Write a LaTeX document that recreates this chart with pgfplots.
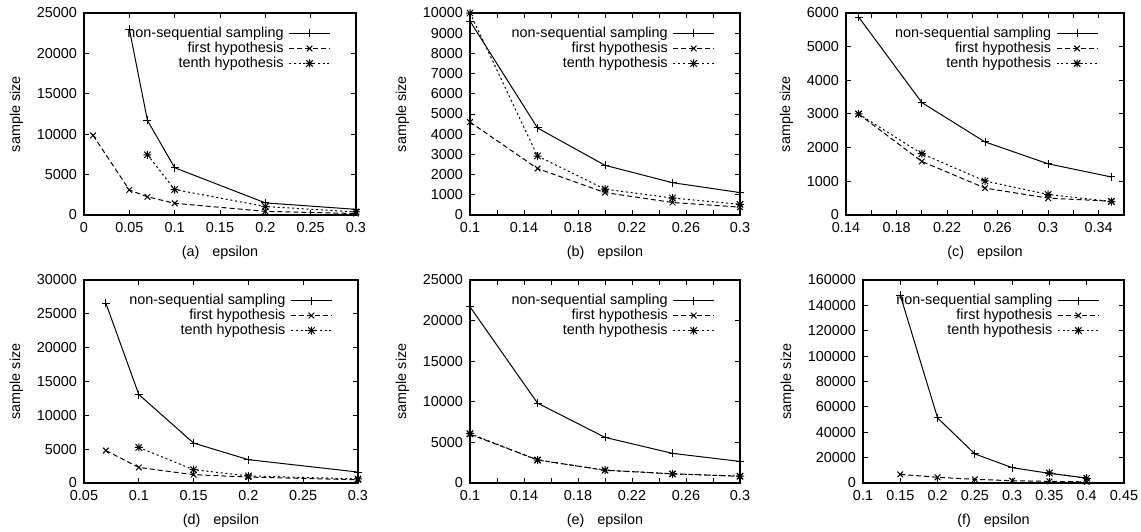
\documentclass[border=0pt]{standalone}
\usepackage{fontspec}
\setmainfont{Liberation Sans}
\usepackage{pgfplots}
\pgfplotsset{compat=1.18}

\newcommand{\fs}{\fontsize{7.2}{8}\selectfont}

% gnuplot style '*' mark: a plus and a cross on top of each other
\pgfdeclareplotmark{gpstar}{%
  \pgfpathmoveto{\pgfqpoint{-\pgfplotmarksize}{0pt}}%
  \pgfpathlineto{\pgfqpoint{\pgfplotmarksize}{0pt}}%
  \pgfpathmoveto{\pgfqpoint{0pt}{-\pgfplotmarksize}}%
  \pgfpathlineto{\pgfqpoint{0pt}{\pgfplotmarksize}}%
  \pgfpathmoveto{\pgfqpoint{-0.8\pgfplotmarksize}{-0.8\pgfplotmarksize}}%
  \pgfpathlineto{\pgfqpoint{0.8\pgfplotmarksize}{0.8\pgfplotmarksize}}%
  \pgfpathmoveto{\pgfqpoint{-0.8\pgfplotmarksize}{0.8\pgfplotmarksize}}%
  \pgfpathlineto{\pgfqpoint{0.8\pgfplotmarksize}{-0.8\pgfplotmarksize}}%
  \pgfusepathqstroke}

\pgfplotsset{
  gp/.style={
    scale only axis,
    axis line style={line width=0.6pt},
    tick align=inside, tick pos=both,
    major tick length=2.5pt, minor tick length=2.5pt,
    every tick/.style={black, line width=0.5pt},
    scaled ticks=false,
    /pgf/number format/fixed,
    /pgf/number format/precision=0,
    /pgf/number format/1000 sep={},
    /pgf/number format/assume math mode=true,
    tick label style={font=\fs},
    label style={font=\fs},
    ylabel={sample size},
    legend style={draw=none, fill=none, font=\fs,
      at={(rel axis cs:0.93,0.955)}, anchor=north east,
      nodes={inner ysep=0pt, inner xsep=2.5pt, text height=5.4pt, text depth=1.6pt},
      row sep=0.5pt},
    legend cell align=right,
    legend plot pos=right,
    legend image code/.code={%
      \draw[mark repeat=2,mark phase=2] plot coordinates {(0cm,0cm) (0.36cm,0cm) (0.72cm,0cm)};},
    every axis plot/.append style={black, line width=0.5pt, mark size=2pt},
  },
  ns/.style={solid, mark=+},
  fh/.style={dash pattern=on 2.5pt off 1.5pt, mark=x, mark options={solid}},
  th/.style={dash pattern=on 1pt off 1.4pt, mark=gpstar, mark options={solid}},
}

\begin{document}
\begin{tikzpicture}
\useasboundingbox (0,0) rectangle (570.5pt,-265.5pt);

% (a)
\begin{axis}[gp, at={(42pt,-6.5pt)}, anchor=north west, width=136pt, height=101pt,
  xmin=0, xmax=0.3, ymin=0, ymax=25000,
  xtick={0,0.05,0.1,0.15,0.2,0.25,0.3},
  xticklabels={0,0.05,0.1,0.15,0.2,0.25,0.3},
  ytick={0,5000,10000,15000,20000,25000},
  xlabel={(a)\hspace{0.9em}epsilon}]
\addplot[ns] coordinates {(0.05,23000) (0.07,11700) (0.1,5850) (0.2,1500) (0.3,700)};
\addplot[fh] coordinates {(0.01,9850) (0.05,3100) (0.07,2250) (0.1,1450) (0.2,450) (0.3,180)};
\addplot[th] coordinates {(0.07,7450) (0.1,3150) (0.2,1050) (0.3,380)};
\legend{non-sequential sampling, first hypothesis, tenth hypothesis}
\end{axis}

% (b)
\begin{axis}[gp, at={(235pt,-6.5pt)}, anchor=north west, width=135pt, height=101pt,
  xmin=0.1, xmax=0.3, ymin=0, ymax=10000,
  xtick={0.1,0.12,0.14,0.16,0.18,0.2,0.22,0.24,0.26,0.28,0.3},
  xticklabels={0.1,,0.14,,0.18,,0.22,,0.26,,0.3},
  ytick={0,1000,2000,3000,4000,5000,6000,7000,8000,9000,10000},
  xlabel={(b)\hspace{0.9em}epsilon}]
\addplot[ns] coordinates {(0.1,9600) (0.15,4310) (0.2,2460) (0.25,1600) (0.3,1110)};
\addplot[fh] coordinates {(0.1,4600) (0.15,2300) (0.2,1110) (0.25,620) (0.3,390)};
\addplot[th] coordinates {(0.1,10000) (0.15,2920) (0.2,1280) (0.25,840) (0.3,530)};
\legend{non-sequential sampling, first hypothesis, tenth hypothesis}
\end{axis}

% (c)
\begin{axis}[gp, at={(423pt,-6.5pt)}, anchor=north west, width=139pt, height=101pt,
  xmin=0.14, xmax=0.36, ymin=0, ymax=6000,
  xtick={0.14,0.16,0.18,0.2,0.22,0.24,0.26,0.28,0.3,0.32,0.34,0.36},
  xticklabels={0.14,,0.18,,0.22,,0.26,,0.3,,0.34,},
  ytick={0,1000,2000,3000,4000,5000,6000},
  xlabel={(c)\hspace{0.9em}epsilon}]
\addplot[ns] coordinates {(0.15,5880) (0.2,3340) (0.25,2170) (0.3,1520) (0.35,1130)};
\addplot[fh] coordinates {(0.15,3000) (0.2,1590) (0.25,800) (0.3,500) (0.35,410)};
\addplot[th] coordinates {(0.15,3000) (0.2,1820) (0.25,1010) (0.3,610) (0.35,400)};
\legend{non-sequential sampling, first hypothesis, tenth hypothesis}
\end{axis}

% (d)
\begin{axis}[gp, at={(42pt,-140pt)}, anchor=north west, width=137pt, height=101.5pt,
  xmin=0.05, xmax=0.3, ymin=0, ymax=30000,
  xtick={0.05,0.1,0.15,0.2,0.25,0.3},
  xticklabels={0.05,0.1,0.15,0.2,0.25,0.3},
  ytick={0,5000,10000,15000,20000,25000,30000},
  xlabel={(d)\hspace{0.9em}epsilon}]
\addplot[ns] coordinates {(0.07,26550) (0.1,13080) (0.15,5900) (0.2,3450) (0.3,1620)};
\addplot[fh] coordinates {(0.07,4800) (0.1,2300) (0.15,1230) (0.2,880) (0.3,480)};
\addplot[th] coordinates {(0.1,5250) (0.15,1970) (0.2,1050) (0.3,600)};
\legend{non-sequential sampling, first hypothesis, tenth hypothesis}
\end{axis}

% (e)
\begin{axis}[gp, at={(235pt,-140pt)}, anchor=north west, width=135pt, height=101.5pt,
  xmin=0.1, xmax=0.3, ymin=0, ymax=25000,
  xtick={0.1,0.12,0.14,0.16,0.18,0.2,0.22,0.24,0.26,0.28,0.3},
  xticklabels={0.1,,0.14,,0.18,,0.22,,0.26,,0.3},
  ytick={0,5000,10000,15000,20000,25000},
  xlabel={(e)\hspace{0.9em}epsilon}]
\addplot[ns] coordinates {(0.1,21700) (0.15,9840) (0.2,5620) (0.25,3650) (0.3,2660)};
\addplot[fh] coordinates {(0.1,6000) (0.15,2850) (0.2,1560) (0.25,1140) (0.3,820)};
\addplot[th] coordinates {(0.1,6080) (0.15,2820) (0.2,1600) (0.25,1120) (0.3,850)};
\legend{non-sequential sampling, first hypothesis, tenth hypothesis}
\end{axis}

% (f)
\begin{axis}[gp, at={(431.5pt,-140pt)}, anchor=north west, width=130.5pt, height=101.5pt,
  xmin=0.1, xmax=0.45, ymin=0, ymax=160000,
  xtick={0.1,0.15,0.2,0.25,0.3,0.35,0.4,0.45},
  xticklabels={0.1,0.15,0.2,0.25,0.3,0.35,0.4,0.45},
  ytick={0,20000,40000,60000,80000,100000,120000,140000,160000},
  xlabel={(f)\hspace{0.9em}epsilon}]
\addplot[ns] coordinates {(0.15,148000) (0.2,51300) (0.25,22900) (0.3,12100) (0.35,7600) (0.4,3900)};
\addplot[fh] coordinates {(0.15,6800) (0.2,4500) (0.25,2900) (0.3,1800) (0.35,1300) (0.4,900)};
\addplot[th] coordinates {(0.35,7900) (0.4,3700)};
\legend{non-sequential sampling, first hypothesis, tenth hypothesis}
\end{axis}
\end{tikzpicture}
\end{document}
